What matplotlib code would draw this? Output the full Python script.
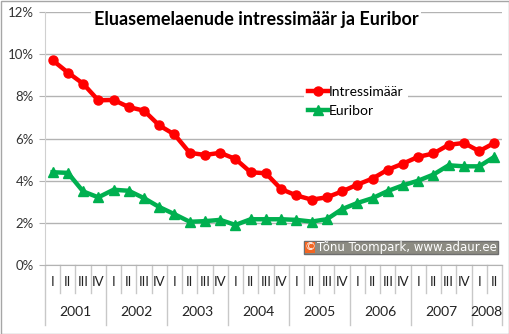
import matplotlib.pyplot as plt
from matplotlib.patches import Rectangle
from matplotlib.ticker import FuncFormatter

# Quarterly rates, 2001 Q1 .. 2008 Q2 (percent)
years = ["2001", "2002", "2003", "2004", "2005", "2006", "2007", "2008"]
quarters = ["I", "II", "III", "IV"]
intressimaar = [9.71, 9.13, 8.60, 7.81, 7.83, 7.49, 7.32, 6.62, 6.19, 5.32,
                5.22, 5.32, 5.03, 4.40, 4.35, 3.60, 3.30, 3.10, 3.21, 3.49,
                3.81, 4.10, 4.52, 4.81, 5.13, 5.29, 5.70, 5.79, 5.40, 5.79]
euribor = [4.40, 4.37, 3.49, 3.21, 3.57, 3.52, 3.17, 2.75, 2.41, 2.05,
           2.08, 2.14, 1.90, 2.17, 2.17, 2.17, 2.14, 2.06, 2.17, 2.65,
           2.94, 3.17, 3.51, 3.78, 4.00, 4.29, 4.73, 4.68, 4.68, 5.13]

W, H = 510, 334
FONT = "Lato"
RED = "#ff0000"
GREEN = "#00b050"
GRID = "#b3b3b3"

n = len(intressimaar)
x = list(range(n))
q_labels = [quarters[i % 4] for i in x]

fig = plt.figure(figsize=(W / 100, H / 100), dpi=100)
fig.patches.append(Rectangle((0.5 / W, 0.5 / H), 1 - 1.5 / W, 1 - 1.5 / H,
                             transform=fig.transFigure, fill=False,
                             edgecolor="#a6a6a6", linewidth=1))

left, right, top, bottom = 45, 502, 12, 265
ax = fig.add_axes([left / W, (H - bottom) / H, (right - left) / W, (bottom - top) / H])

ax.plot(x, intressimaar, color=RED, lw=3.2, marker="o", ms=6.5,
        label="Intressimäär", zorder=3)
ax.plot(x, euribor, color=GREEN, lw=3.2, marker="^", ms=6.5,
        label="Euribor", zorder=3)

ax.set_xlim(-0.5, n - 0.5)
ax.set_ylim(0, 12)
ax.set_yticks(range(0, 13, 2))
ax.yaxis.set_major_formatter(FuncFormatter(lambda v, _: f"{v:.0f}%"))
ax.tick_params(axis="y", length=4, color=GRID, labelsize=9.5, pad=4,
               labelcolor="#333333")
for lbl in ax.get_yticklabels():
    lbl.set_fontfamily(FONT)
ax.set_xticks([])
ax.grid(axis="y", color=GRID, lw=1)
ax.set_axisbelow(True)
for side in ["top", "right"]:
    ax.spines[side].set_visible(False)
ax.spines["left"].set_color("#d0d0d0")
ax.spines["bottom"].set_color(GRID)

# two-level category axis: quarters, then years
xt = ax.get_xaxis_transform()
axh = bottom - top
for i, q in zip(x, q_labels):
    ax.text(i, -17.5 / axh, q, transform=xt, ha="center", va="center",
            fontsize=9.5, family=FONT, color="#222222")
for k in range(n + 1):
    boundary = k - 0.5
    depth = 60 if k % 4 == 0 or k == n else 28
    ax.plot([boundary, boundary], [0, -depth / axh], transform=xt,
            color="#c8c8c8", lw=1, clip_on=False)
for j, yr in enumerate(years):
    start = j * 4
    end = min(start + 4, n)
    ax.text((start + end - 1) / 2, -47.5 / axh, yr, transform=xt,
            ha="center", va="center", fontsize=10, family=FONT,
            color="#222222")

fig.text(256 / W, 1 - 20 / H, "Eluasemelaenude intressimäär ja Euribor",
         ha="center", va="center", fontsize=13, fontweight="bold",
         family=FONT, color="black",
         bbox=dict(facecolor="white", edgecolor="none", pad=2))

leg = ax.legend(loc="upper left", bbox_to_anchor=(304 / W, 1 - 82 / H),
                bbox_transform=fig.transFigure, frameon=True,
                prop={"family": FONT, "size": 10}, handlelength=1.4,
                handletextpad=0.1, labelspacing=0.5, borderpad=0.3,
                borderaxespad=0, fancybox=False)
leg.get_frame().set_facecolor("white")
leg.get_frame().set_edgecolor("none")
leg.get_frame().set_alpha(1)

# copyright badge
fig.patches.append(Rectangle((304 / W, 1 - 254 / H), 194 / W, 13 / H,
                             transform=fig.transFigure, facecolor="#8c8b82",
                             edgecolor="#6e6e6e", linewidth=1, zorder=5))
fig.patches.append(Rectangle((305 / W, 1 - 253 / H), 10 / W, 11 / H,
                             transform=fig.transFigure, facecolor="#f26522",
                             edgecolor="none", zorder=6))
fig.text(310 / W, 1 - 247.5 / H, "©", ha="center", va="center", fontsize=8,
         color="white", family="DejaVu Sans", zorder=7)
fig.text(317 / W, 1 - 247.5 / H, "Tõnu Toompark, www.adaur.ee", ha="left",
         va="center", fontsize=8.5, color="white", family="DejaVu Sans",
         zorder=7)

fig.savefig("out.png", dpi=100)
